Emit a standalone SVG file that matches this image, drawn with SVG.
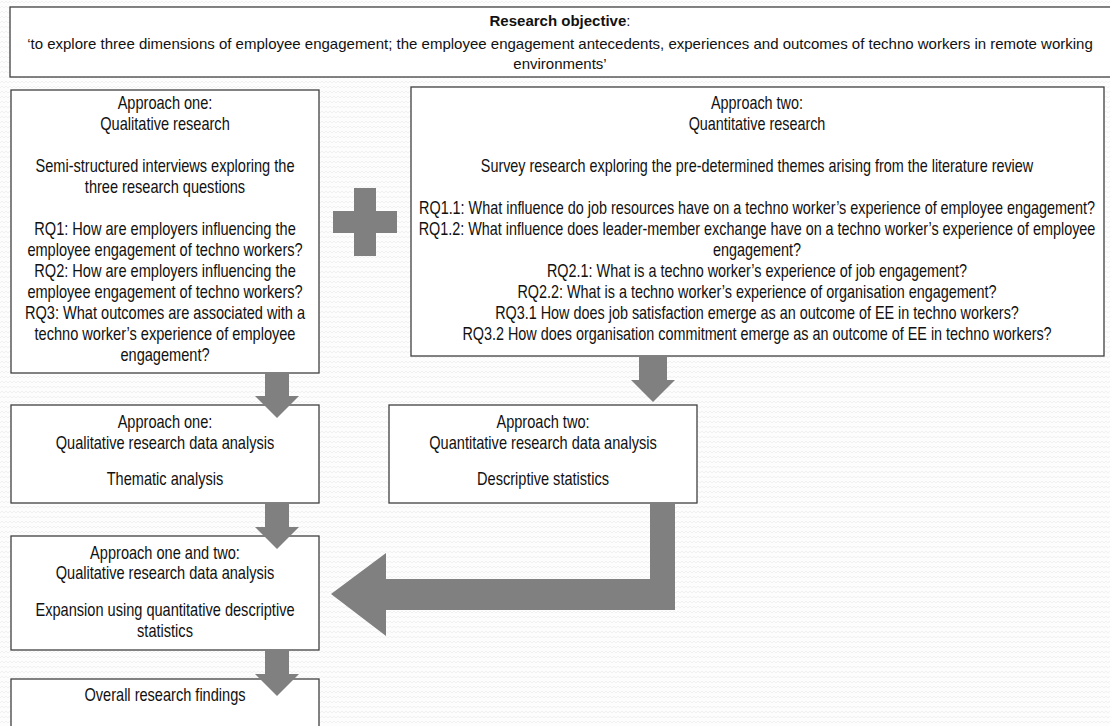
<svg xmlns="http://www.w3.org/2000/svg" width="1110" height="726" viewBox="0 0 1110 726">
<defs>
<style>
.box{fill:#fff;stroke:#404040;stroke-width:1.3}
.t{font-family:"Liberation Sans",Arial,sans-serif;font-size:18px;fill:#111;text-anchor:middle}
.tp{font-family:"Liberation Sans",Arial,sans-serif;font-size:15px;fill:#111;text-anchor:middle}
.b{font-weight:bold}
.arrow{fill:#808080}
</style>
<pattern id="bg" width="8" height="5" patternUnits="userSpaceOnUse"><path d="M0 3 L2 1 L4 3 L6 1 L8 3" fill="none" stroke="#ededed" stroke-width="0.7"/></pattern>
</defs>
<rect width="1110" height="726" fill="#fdfdfd"/>
<rect width="1110" height="726" fill="url(#bg)"/>

<g id="objective">
<rect class="box" x="10" y="7" width="1110" height="70" stroke-width="1.6"/>
<text class="tp" x="560" y="26"><tspan class="b">Research objective</tspan>:</text>
<text class="tp" x="560" y="49">‘to explore three dimensions of employee engagement; the employee engagement antecedents, experiences and outcomes of techno workers in remote working</text>
<text class="tp" x="560" y="69">environments’</text>
</g>

<g id="approach-one">
<rect class="box" x="11" y="90" width="308" height="283"/>
<g transform="translate(165 0) scale(0.81 1)">
<text class="t" x="0" y="109">Approach one:</text>
<text class="t" x="0" y="130">Qualitative research</text>
<text class="t" x="0" y="172">Semi-structured interviews exploring the</text>
<text class="t" x="0" y="193">three research questions</text>
<text class="t" x="0" y="235">RQ1: How are employers influencing the</text>
<text class="t" x="0" y="256">employee engagement of techno workers?</text>
<text class="t" x="0" y="277">RQ2: How are employers influencing the</text>
<text class="t" x="0" y="298">employee engagement of techno workers?</text>
<text class="t" x="0" y="319">RQ3: What outcomes are associated with a</text>
<text class="t" x="0" y="340">techno worker’s experience of employee</text>
<text class="t" x="0" y="361">engagement?</text>
</g>
</g>

<g id="approach-two">
<rect class="box" x="411" y="87" width="693" height="269"/>
<g transform="translate(757 0) scale(0.8 1)">
<text class="t" x="0" y="109">Approach two:</text>
<text class="t" x="0" y="130">Quantitative research</text>
<text class="t" x="0" y="172">Survey research exploring the pre-determined themes arising from the literature review</text>
<text class="t" x="0" y="214">RQ1.1: What influence do job resources have on a techno worker’s experience of employee engagement?</text>
<text class="t" x="0" y="235">RQ1.2: What influence does leader-member exchange have on a techno worker’s experience of employee</text>
<text class="t" x="0" y="256">engagement?</text>
<text class="t" x="0" y="277">RQ2.1: What is a techno worker’s experience of job engagement?</text>
<text class="t" x="0" y="298">RQ2.2: What is a techno worker’s experience of organisation engagement?</text>
<text class="t" x="0" y="319">RQ3.1 How does job satisfaction emerge as an outcome of EE in techno workers?</text>
<text class="t" x="0" y="340">RQ3.2 How does organisation commitment emerge as an outcome of EE in techno workers?</text>
</g>
</g>

<g id="analysis-one">
<rect class="box" x="11" y="405" width="308" height="98"/>
<g transform="translate(165 0) scale(0.81 1)">
<text class="t" x="0" y="428">Approach one:</text>
<text class="t" x="0" y="449">Qualitative research data analysis</text>
<text class="t" x="0" y="485">Thematic analysis</text>
</g>
</g>

<g id="analysis-two">
<rect class="box" x="389" y="405" width="308" height="98"/>
<g transform="translate(543 0) scale(0.81 1)">
<text class="t" x="0" y="428">Approach two:</text>
<text class="t" x="0" y="449">Quantitative research data analysis</text>
<text class="t" x="0" y="485">Descriptive statistics</text>
</g>
</g>

<g id="combined">
<rect class="box" x="11" y="536" width="308" height="114"/>
<g transform="translate(165 0) scale(0.81 1)">
<text class="t" x="0" y="559">Approach one and two:</text>
<text class="t" x="0" y="579">Qualitative research data analysis</text>
<text class="t" x="0" y="616">Expansion using quantitative descriptive</text>
<text class="t" x="0" y="637">statistics</text>
</g>
</g>

<g id="findings">
<rect class="box" x="11" y="679" width="308" height="60"/>
<g transform="translate(165 0) scale(0.81 1)">
<text class="t" x="0" y="701">Overall research findings</text>
</g>
</g>

<g id="plus">
<polygon class="arrow" points="354,188 376,188 376,211 397,211 397,233 376,233 376,256 354,256 354,233 333,233 333,211 354,211"/>
</g>

<g id="connectors">
<polygon class="arrow" points="265,372 289,372 289,396 299,396 277,418 255,396 265,396"/>
<polygon class="arrow" points="639,356 667,356 667,380 675,380 653,402 631,380 639,380"/>
<polygon class="arrow" points="265,503 289,503 289,527 299,527 277,549 255,527 265,527"/>
<polygon class="arrow" points="265,650 289,650 289,674 299,674 277,696 255,674 265,674"/>
<polygon class="arrow" points="650,503 675,503 675,610 386,610 386,636 331,594 386,553 386,579 650,579"/>
</g>
</svg>
